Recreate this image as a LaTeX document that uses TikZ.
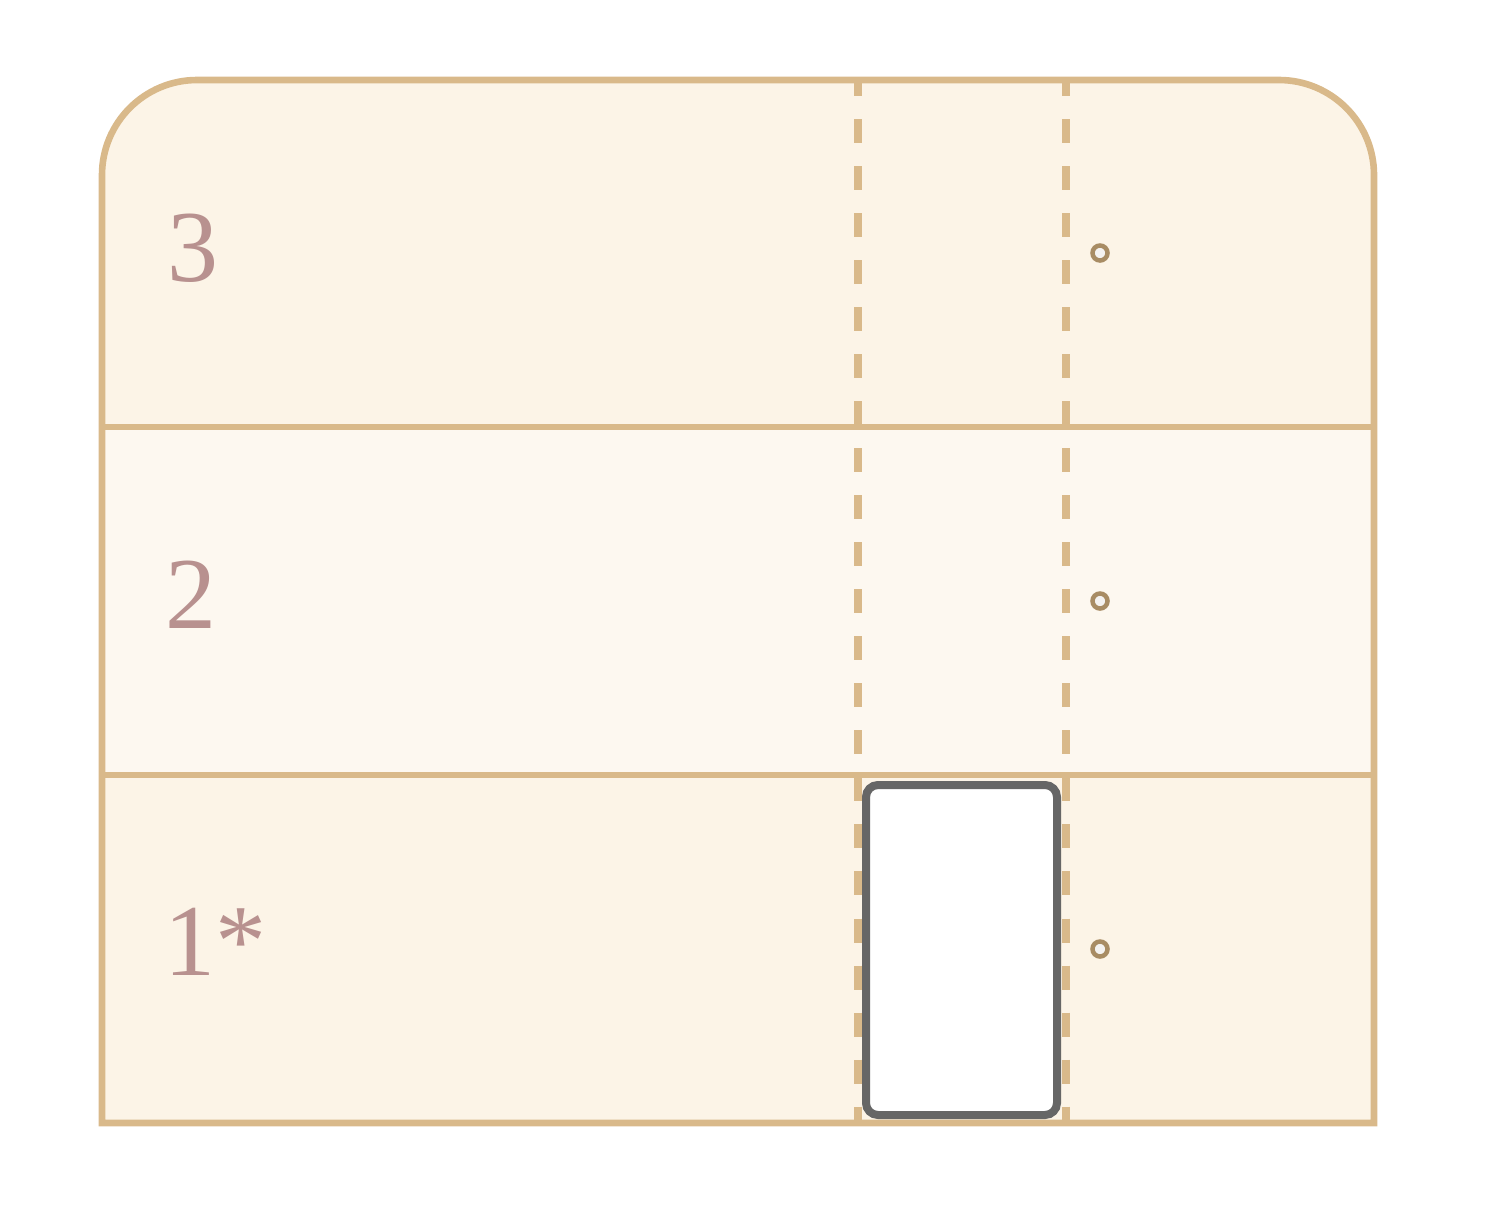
\documentclass[tikz,border=0pt]{standalone}
\usepackage{fontspec}
\setmainfont{Liberation Serif}
\usepackage{xcolor}
\usetikzlibrary{positioning}

\definecolor{rimtan}{HTML}{D9B98A}
\definecolor{bandcream}{HTML}{FCF4E7}
\definecolor{bandpale}{HTML}{FDF8F0}
\definecolor{lvlrose}{HTML}{B8918F}
\definecolor{pinbrown}{HTML}{A88C64}
\definecolor{pinwhite}{HTML}{F4F2F0}
\definecolor{slotgray}{HTML}{666666}

\begin{document}
\begin{tikzpicture}[x=0.01cm,y=-0.01cm,
  frame/.style={draw=rimtan,line width=.066cm},
  guide/.style={draw=rimtan,line width=.08cm,
    dash pattern=on .24cm off .23cm,dash phase=.08cm},
  lvl/.style={anchor=base west,text=lvlrose,inner sep=0pt,
    font=\fontsize{29}{30}\selectfont},
  pin/.style={circle,draw=pinbrown,fill=pinwhite,line width=.045cm,
    minimum size=.15cm,inner sep=0pt},
  slot/.style={draw=slotgray,fill=white,line width=.08cm,rounded corners=.12cm}]
\useasboundingbox (0,0) rectangle (1488,1212);
% bands, top one with round corners
\fill[bandcream] (102,427) [rounded corners=.95cm] -- (102,80) -- (1374,80)
  [sharp corners] -- (1374,427) -- cycle;
\fill[bandpale] (102,427) rectangle (1374,775);
\fill[bandcream] (102,775) rectangle (1374,1123);
% dashed guides
\draw[guide] (858,80) -- (858,1123);
\draw[guide] (1066,80) -- (1066,1123);
% outline and band borders
\draw[frame] (102,427) -- (1374,427);
\draw[frame] (102,775) -- (1374,775);
\draw[frame] (102,1123) [rounded corners=.95cm] -- (102,80) -- (1374,80)
  [sharp corners] -- (1374,1123) -- cycle;
% cabin
\draw[slot] (866,785) rectangle (1057,1115);
% levels
\node[lvl] (lvl3) at (167,281) {3};
\node[lvl] (lvl2) at (165,628) {2};
\node[lvl] (lvl1) at (164,975) {1*};
\foreach \k/\y in {3/253,2/601,1/949}
  \node[pin] (pin\k) at (1100,\y) {};
\end{tikzpicture}
\end{document}
